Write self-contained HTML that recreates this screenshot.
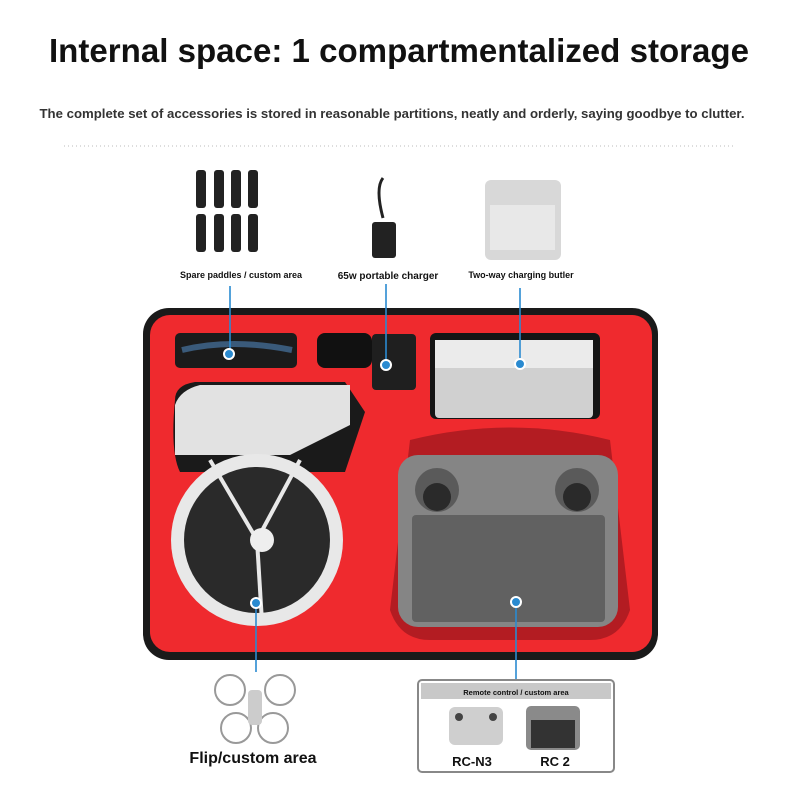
<!DOCTYPE html>
<html><head><style>
body{margin:0;background:#fff;width:800px;height:800px;overflow:hidden;font-family:"Liberation Sans",sans-serif}
</style></head><body>
<svg width="800" height="800" viewBox="0 0 800 800" xmlns="http://www.w3.org/2000/svg" font-family="Liberation Sans, sans-serif">
<text x="399" y="62" text-anchor="middle" font-size="33" font-weight="bold" fill="#111" textLength="700" lengthAdjust="spacingAndGlyphs">Internal space: 1 compartmentalized storage</text>
<text x="392" y="118" text-anchor="middle" font-size="13" font-weight="bold" fill="#333" textLength="705" lengthAdjust="spacingAndGlyphs">The complete set of accessories is stored in reasonable partitions, neatly and orderly, saying goodbye to clutter.</text>
<line x1="64" y1="146" x2="736" y2="146" stroke="#bbb" stroke-dasharray="1,3"/>
<g fill="#222">
<rect x="196" y="170" width="10" height="38" rx="3"/><rect x="214" y="170" width="10" height="38" rx="3"/><rect x="231" y="170" width="10" height="38" rx="3"/><rect x="248" y="170" width="10" height="38" rx="3"/>
<rect x="196" y="214" width="10" height="38" rx="3"/><rect x="214" y="214" width="10" height="38" rx="3"/><rect x="231" y="214" width="10" height="38" rx="3"/><rect x="248" y="214" width="10" height="38" rx="3"/>
</g>
<path d="M383 178 q-8 10 0 40" stroke="#222" stroke-width="3" fill="none"/>
<rect x="372" y="222" width="24" height="36" rx="3" fill="#222"/>
<rect x="485" y="180" width="76" height="80" rx="6" fill="#d8d8d8"/>
<rect x="490" y="205" width="65" height="45" fill="#e8e8e8"/>
<g font-size="9" font-weight="bold" fill="#111" text-anchor="middle">
<text x="241" y="278">Spare paddles  / custom area</text>
<text x="388" y="279" font-size="10">65w portable charger</text>
<text x="521" y="278">Two-way charging butler</text>
</g>
<rect x="143" y="308" width="515" height="352" rx="26" fill="#1a1a1a"/>
<rect x="150" y="315" width="502" height="337" rx="20" fill="#ef2a2e"/>
<rect x="175" y="333" width="122" height="35" rx="5" fill="#1b1b1b"/>
<path d="M182 350 q50-12 110 0" stroke="#3a5a7a" stroke-width="6" fill="none"/>
<rect x="317" y="333" width="55" height="35" rx="8" fill="#111"/>
<rect x="372" y="334" width="44" height="56" rx="4" fill="#1f1f1f"/>
<rect x="430" y="333" width="170" height="86" rx="6" fill="#151515"/>
<rect x="435" y="340" width="158" height="78" rx="4" fill="#d0d0d0"/>
<rect x="435" y="340" width="158" height="28" fill="#ebebeb"/>
<path d="M175 400 q0-15 20-18 h150 l20 30 l-20 60 h-165 q-10-20 -5-72z" fill="#1a1a1a"/>
<path d="M175 405 q5-15 25-20 h150 v40 l-60 30 h-115z" fill="#e2e2e2"/>
<circle cx="257" cy="540" r="86" fill="#e8e8e8"/>
<circle cx="257" cy="540" r="73" fill="#2a2a2a"/>
<g stroke="#e8e8e8" stroke-width="4"><line x1="257" y1="540" x2="210" y2="460"/><line x1="257" y1="540" x2="300" y2="460"/><line x1="257" y1="540" x2="262" y2="622"/></g>
<circle cx="262" cy="540" r="12" fill="#eee"/>
<path d="M410 440 q100-25 200 0 l20 170 q-10 30 -40 30 h-160 q-30 0 -40-30z" fill="#b31c22"/>
<rect x="398" y="455" width="220" height="172" rx="20" fill="#858585"/>
<rect x="412" y="515" width="193" height="107" rx="4" fill="#616161"/>
<circle cx="437" cy="490" r="22" fill="#5a5a5a"/><circle cx="437" cy="497" r="14" fill="#2a2a2a"/>
<circle cx="577" cy="490" r="22" fill="#5a5a5a"/><circle cx="577" cy="497" r="14" fill="#2a2a2a"/>
<g stroke="#2a8ad0" stroke-width="1.6">
<line x1="230" y1="286" x2="230" y2="353"/><line x1="386" y1="284" x2="386" y2="364"/><line x1="520" y1="288" x2="520" y2="364"/>
<line x1="256" y1="603" x2="256" y2="672"/><line x1="516" y1="603" x2="516" y2="683"/>
</g>
<g fill="#2a8ad0" stroke="#fff" stroke-width="2">
<circle cx="229" cy="354" r="5"/><circle cx="386" cy="365" r="5"/><circle cx="520" cy="364" r="5"/><circle cx="256" cy="603" r="5"/><circle cx="516" cy="602" r="5"/>
</g>
<g fill="none" stroke="#999" stroke-width="2">
<circle cx="230" cy="690" r="15"/><circle cx="280" cy="690" r="15"/><circle cx="236" cy="728" r="15"/><circle cx="273" cy="728" r="15"/>
</g>
<rect x="248" y="690" width="14" height="35" rx="4" fill="#ccc"/>
<text x="253" y="763" text-anchor="middle" font-size="16" font-weight="bold" fill="#111">Flip/custom area</text>
<rect x="418" y="680" width="196" height="92" rx="4" fill="#fff" stroke="#888" stroke-width="2"/>
<rect x="421" y="683" width="190" height="16" fill="#c8c8c8"/>
<text x="516" y="695" text-anchor="middle" font-size="7.5" font-weight="bold" fill="#111">Remote control / custom area</text>
<rect x="449" y="707" width="54" height="38" rx="6" fill="#cfcfcf"/>
<circle cx="459" cy="717" r="4" fill="#444"/><circle cx="493" cy="717" r="4" fill="#444"/>
<rect x="526" y="706" width="54" height="44" rx="5" fill="#8a8a8a"/>
<rect x="531" y="720" width="44" height="28" fill="#333"/>
<text x="472" y="766" text-anchor="middle" font-size="13" font-weight="bold" fill="#111">RC-N3</text>
<text x="555" y="766" text-anchor="middle" font-size="13" font-weight="bold" fill="#111">RC 2</text>
</svg>
</body></html>
